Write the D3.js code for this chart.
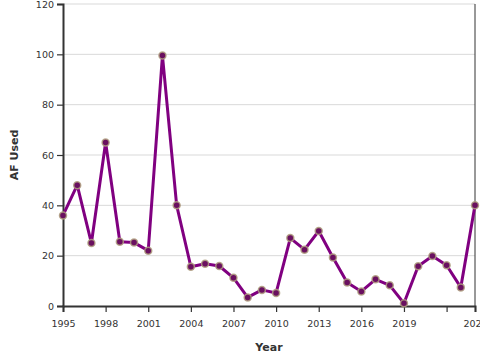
<!DOCTYPE html>
<html><head><meta charset="utf-8">
<script src="https://cdn.jsdelivr.net/npm/d3@7"></script>
<style>
body{margin:0;background:#fff;}
svg text{font-family:"DejaVu Sans",Verdana,sans-serif;}
</style></head>
<body><svg id="c" width="480" height="360"></svg>
<script>
const years = [1995,1996,1997,1998,1999,2000,2001,2002,2003,2004,2005,2006,2007,2008,2009,2010,2011,2012,2013,2014,2015,2016,2017,2018,2019,2020,2021,2022,2023,2024];
const afUsed = [36,48,25,65,25.5,25.2,22,99.5,40,15.6,16.8,15.9,11.2,3.4,6.4,5.2,27,22.4,29.8,19.3,9.3,5.8,10.6,8.2,1.1,15.8,19.9,16.2,7.4,40];
const xTicks = [1995,1998,2001,2004,2007,2010,2013,2016,2019,2022,2024];
const yTicks = [0,20,40,60,80,100,120];

const svg = d3.select("#c");
const L=63, R=475, T=4, B=306;
const x = d3.scaleLinear().domain([1995,2024]).range([L,R]);
const y = d3.scaleLinear().domain([0,120]).range([B,T]);

// gridlines
svg.append("g").selectAll("line").data(yTicks.filter(d=>d>0)).join("line")
  .attr("x1",L).attr("x2",R).attr("y1",d=>y(d)).attr("y2",d=>y(d))
  .attr("stroke","#d9d9d9").attr("stroke-width",1);

// right border
svg.append("line").attr("x1",R).attr("x2",R).attr("y1",T).attr("y2",B)
  .attr("stroke","#333").attr("stroke-width",1);

// axes
const xa = svg.append("g").attr("transform",`translate(0,${B})`)
  .call(d3.axisBottom(x).tickValues(xTicks).tickFormat(d=>d===2022?"":String(d)).tickSize(6).tickPadding(8));
const ya = svg.append("g").attr("transform",`translate(${L},0)`)
  .call(d3.axisLeft(y).tickValues(yTicks).tickSize(6).tickPadding(3));
[xa,ya].forEach(a=>{
  a.select(".domain").attr("stroke","#333").attr("stroke-width",2);
  a.selectAll(".tick line").attr("stroke","#333").attr("stroke-width",1.2);
  a.selectAll(".tick text").attr("fill","#333").style("font-size","9.5px");
});

// line
svg.append("path").datum(years.map((yr,i)=>[yr,afUsed[i]]))
  .attr("fill","none").attr("stroke","#800080").attr("stroke-width",3)
  .attr("stroke-linejoin","round")
  .attr("d",d3.line().x(d=>x(d[0])).y(d=>y(d[1])));

// markers
svg.append("g").selectAll("circle").data(years.map((yr,i)=>[yr,afUsed[i]])).join("circle")
  .attr("cx",d=>x(d[0])).attr("cy",d=>y(d[1])).attr("r",3.5)
  .attr("fill","#6a1060").attr("stroke","#b0a080").attr("stroke-opacity",0.85).attr("stroke-width",1.5);

// titles
svg.append("text").attr("x",269).attr("y",351).attr("text-anchor","middle")
  .style("font-size","11px").style("font-weight","bold").attr("fill","#333").text("Year");
svg.append("text").attr("transform","translate(18,155) rotate(-90)").attr("text-anchor","middle")
  .style("font-size","11px").style("font-weight","bold").attr("fill","#333").text("AF Used");
</script></body></html>
